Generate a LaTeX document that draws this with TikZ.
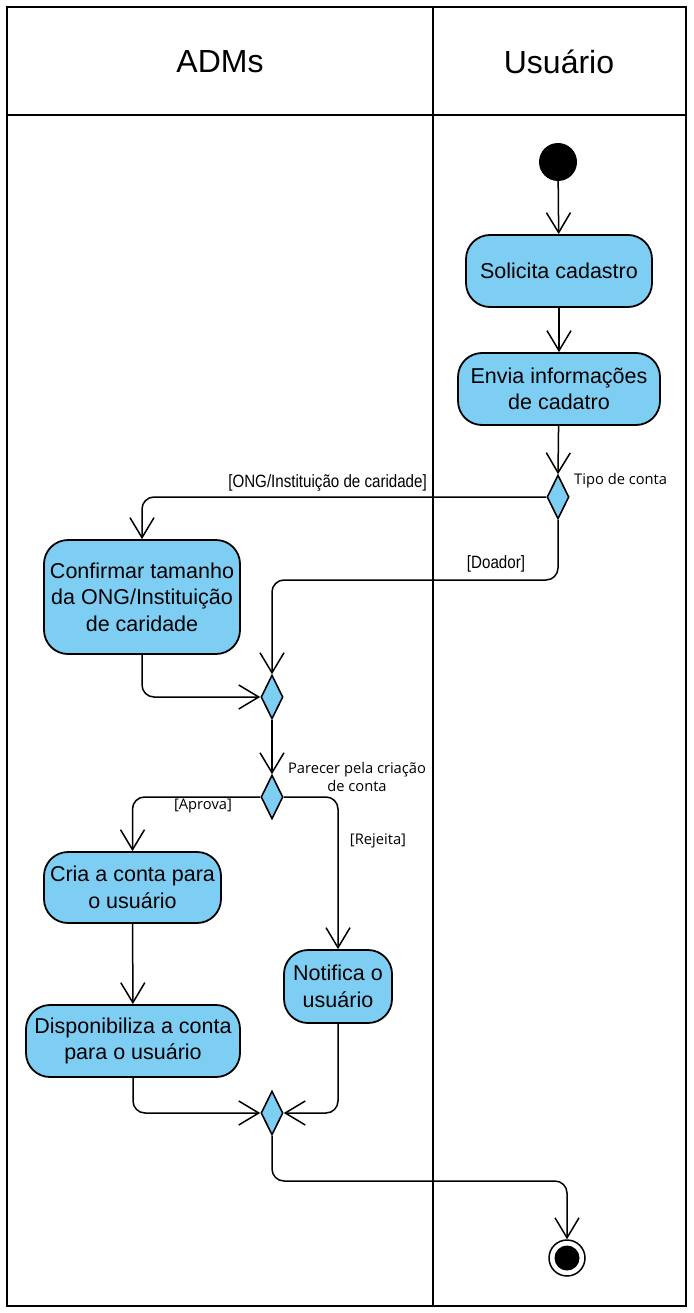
\documentclass[tikz,border=0pt]{standalone}
\usepackage{fontspec}
\setmainfont{Liberation Sans}
\newfontfamily\labelfont{Open Sans}
\newfontfamily\narrowfont[FakeStretch=0.85]{Liberation Sans}
\usetikzlibrary{shapes.geometric,arrows.meta}
\definecolor{actblue}{RGB}{126,206,244}
\begin{document}
\begin{tikzpicture}[x=1pt,y=-1pt,
  act/.style={draw, fill=actblue, line width=1.8pt, rounded corners=24pt, align=center,
    inner sep=0pt, font=\fontsize{21.5}{26.5}\selectfont},
  decis/.style={draw, fill=actblue, diamond, line width=1.6pt, inner sep=0pt,
    minimum width=22pt, minimum height=44pt},
  flow/.style={draw, line width=1.5pt, rounded corners=12pt,
    -{Straight Barb[length=20pt,width=24pt]}},
  glabel/.style={font=\labelfont\fontsize{14.7}{17.5}\selectfont, inner sep=0pt, align=center},
  nlabel/.style={font=\narrowfont\fontsize{17.8}{20}\selectfont, inner sep=0pt},
  lane/.style={draw, line width=1.6pt},
  head/.style={font=\fontsize{32}{36}\selectfont, inner sep=0pt}
]
\useasboundingbox (0,0) rectangle (693,1313);
% swimlanes
\draw[lane] (7,7) rectangle (686,1306);
\draw[lane] (7,115) -- (686,115);
\draw[lane] (433,7) -- (433,1306);
\node[head] (hadm) at (220,62) {ADMs};
\node[head] (husr) at (559,62) {Usuário};

% nodes
\node[circle, fill=black, minimum size=38pt, inner sep=0pt] (init) at (558,162) {};
\node[act, minimum width=186pt, minimum height=72pt] (sol) at (559,271) {Solicita cadastro};
\node[act, minimum width=202pt, minimum height=72pt] (env) at (559,389) {Envia informações\\de cadatro};
\node[decis] (d1) at (558,497) {};
\node[act, minimum width=196pt, minimum height=114pt] (conf) at (142,597) {Confirmar tamanho\\da ONG/Instituição\\de caridade};
\node[decis] (m1) at (272,697) {};
\node[decis] (d2) at (272,797) {};
\node[act, minimum width=177pt, minimum height=71pt] (cria) at (132.5,887.5) {Cria a conta para\\o usuário};
\node[act, minimum width=214pt, minimum height=72pt] (disp) at (133,1041) {Disponibiliza a conta\\para o usuário};
\node[act, minimum width=108pt, minimum height=73pt] (notif) at (338,986.5) {Notifica o\\usuário};
\node[decis] (m2) at (272,1113) {};
\node[circle, draw, fill=white, line width=1.5pt, minimum size=36pt, inner sep=0pt,
  path picture={\fill[black] (path picture bounding box.center) circle (12.5pt);}] (fin) at (567,1258) {};

% helper coordinates
\coordinate (cdoa) at (272,580);
\coordinate (cend) at (567,1181);

% connectors
\draw[flow] (init) -- (sol);
\draw[flow] (sol) -- (env);
\draw[flow] (env) -- (d1.north);
\draw[flow] (d1.west) -| (conf.north);
\draw[flow] (d1.south) |- (cdoa) -- (m1.north);
\draw[flow] (conf.south) |- (m1.west);
\draw[flow] (m1.south) -- (d2.north);
\draw[flow] (d2.west) -| (cria.north);
\draw[flow] (d2.east) -| (notif.north);
\draw[flow] (cria) -- (disp);
\draw[flow] (disp.south) |- (m2.west);
\draw[flow] (notif.south) |- (m2.east);
\draw[flow] (m2.south) |- (cend) -- (fin.north);

% labels
\node[glabel, anchor=west] (ltipo) at (574,481) {Tipo de conta};
\node[nlabel, anchor=east] (long) at (427,483) {[ONG/Instituição de caridade]};
\node[nlabel] (ldoa) at (496,564) {[Doador]};
\node[glabel] (lpar) at (357,777) {Parecer pela criação\\de conta};
\node[glabel] (lapr) at (203,806) {[Aprova]};
\node[glabel] (lrej) at (378,841) {[Rejeita]};
\end{tikzpicture}
\end{document}
